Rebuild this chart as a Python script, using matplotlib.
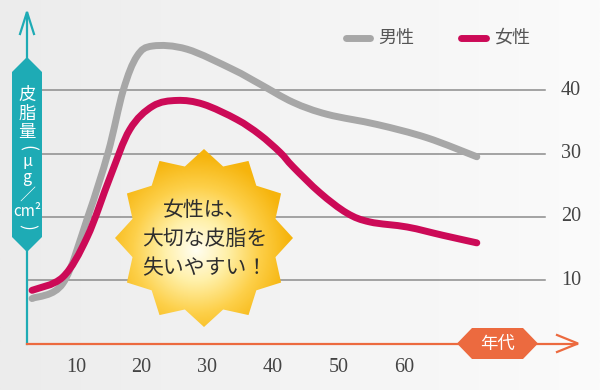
import numpy as np
import matplotlib
matplotlib.use("Agg")
import matplotlib.pyplot as plt
from matplotlib.patches import Polygon, PathPatch
from matplotlib.path import Path

plt.rcParams['font.family'] = ['Noto Sans CJK JP', 'DejaVu Sans']

# data (age in years, sebum amount)
male_age = [3.3, 8.0, 11.8, 14.9, 17.2, 19.3, 21.7, 26.9, 33.9, 38.0, 43.1, 48.3, 55.9, 63.5, 71.1]
male_val = [7.1, 9.5, 20.0, 30.2, 40.0, 45.4, 47.0, 46.5, 43.3, 41.0, 38.1, 36.2, 34.6, 32.5, 29.5]
female_age = [3.3, 8.0, 11.7, 15.2, 18.2, 21.7, 25.4, 29.4, 34.5, 38.0, 41.1, 43.1, 47.2, 51.3, 54.8, 60.5, 65.9, 71.1]
female_val = [8.4, 10.5, 16.8, 26.3, 33.8, 37.5, 38.4, 37.8, 35.4, 33.0, 30.2, 27.9, 23.8, 20.6, 19.2, 18.4, 17.1, 15.9]
x_ticks = [10, 20, 30, 40, 50, 60]
y_ticks = [10, 20, 30, 40]

GRAY = '#a7a7a7'
RED = '#cc0a57'
TEAL = '#1eabb5'
ORANGE = '#ec6a3f'


# pixel position (image coords, y down) -> data coords
def dx(px):
    return 10 + (px - 76) / 6.56


def dy(py):
    return (343.5 - py) / 6.33


def smooth_path(xs, ys):
    # catmull-rom through the read points, drawn as cubic beziers
    p = np.column_stack([xs, ys]).astype(float)
    p = np.vstack([p[0], p, p[-1]])
    verts = [tuple(p[1])]
    codes = [Path.MOVETO]
    for i in range(1, len(p) - 2):
        c1 = p[i] + (p[i + 1] - p[i - 1]) / 6
        c2 = p[i + 1] - (p[i + 2] - p[i]) / 6
        verts += [tuple(c1), tuple(c2), tuple(p[i + 1])]
        codes += [Path.CURVE4] * 3
    return Path(verts, codes)


fig = plt.figure(figsize=(6, 3.9), dpi=100)
ax = fig.add_axes([0, 0, 1, 1])
ax.set_xlim(dx(0), dx(600))
ax.set_ylim(dy(390), dy(0))
ax.axis('off')

# background gradient
grad = np.linspace(0, 1, 256).reshape(1, -1)
bg = matplotlib.colors.LinearSegmentedColormap.from_list('bg', ['#ececec', '#fbfbfb'])
ax.imshow(grad, cmap=bg, extent=[dx(0), dx(600), dy(390), dy(0)], aspect='auto', zorder=0)

# grid lines and right labels
for v in y_ticks:
    ax.plot([dx(27), dx(545)], [v, v], color='#8c8c8c', lw=1.1, zorder=1)
    ax.text(dx(571), v, str(v), ha='center', va='center', fontsize=14.5,
            family='Liberation Serif', color='#444444')
for t in x_ticks:
    ax.text(t, dy(368), str(t), ha='center', va='center', fontsize=14.5,
            family='Liberation Serif', color='#444444')

# curves
for xs, ys, col, z in [(male_age, male_val, GRAY, 3), (female_age, female_val, RED, 4)]:
    ax.add_patch(PathPatch(smooth_path(xs, ys), fc='none', ec=col, lw=5,
                           capstyle='round', joinstyle='round', zorder=z))

# legend
ax.plot([dx(346), dx(370)], [dy(38), dy(38)], color=GRAY, lw=5, solid_capstyle='round', zorder=5)
ax.text(dx(378), dy(38), '男性', ha='left', va='center', fontsize=13, color='#555555')
ax.plot([dx(461), dx(486)], [dy(38), dy(38)], color=RED, lw=5, solid_capstyle='round', zorder=5)
ax.text(dx(494), dy(38), '女性', ha='left', va='center', fontsize=13, color='#555555')

# y axis with arrow and label box
ax.plot([dx(27), dx(27)], [0, dy(13)], color=TEAL, lw=1.6, zorder=2)
ax.plot([dx(20), dx(27), dx(34)], [dy(34), dy(12), dy(34)], color=TEAL, lw=1.6,
        solid_joinstyle='miter', zorder=2)
ybox = [(27, 57), (42, 72), (42, 237), (27, 252), (12, 237), (12, 72)]
ax.add_patch(Polygon([(dx(a), dy(b)) for a, b in ybox], closed=True, fc=TEAL, ec='none', zorder=6))
ylab = [('皮', 95, 0, 12.5), ('脂', 114, 0, 12.5), ('量', 132, 0, 12.5), ('(', 148, -90, 12.5),
        ('μ', 161, 0, 11.5), ('g', 178, 0, 11.5), ('／', 195, 0, 11.5), ('cm²', 212, 0, 11),
        (')', 227, -90, 12.5)]
for ch, py, rot, fs in ylab:
    ax.text(dx(27), dy(py), ch, ha='center', va='center', fontsize=fs, color='white',
            rotation=rot, zorder=7)

# x axis with arrow and label box
ax.plot([dx(27), dx(577)], [0, 0], color=ORANGE, lw=1.6, zorder=2)
ax.plot([dx(557), dx(578), dx(557)], [dy(335), 0, dy(352)], color=ORANGE, lw=1.6,
        solid_joinstyle='miter', zorder=2)
xbox = [(457, 343.5), (472, 328), (523, 328), (538, 343.5), (523, 359), (472, 359)]
ax.add_patch(Polygon([(dx(a), dy(b)) for a, b in xbox], closed=True, fc=ORANGE, ec='none', zorder=6))
ax.text(dx(497.5), 0, '年代', ha='center', va='center', fontsize=12.5, color='white', zorder=7)

# starburst badge
cx, cy, r_out, r_in, n = 204, 238, 89, 74, 12
ang = np.arange(2 * n) * np.pi / n
rad = np.where(np.arange(2 * n) % 2 == 0, r_out, r_in)
star = [(dx(cx + r * np.sin(a)), dy(cy - r * np.cos(a))) for a, r in zip(ang, rad)]
patch = Polygon(star, closed=True, fc='none', ec='none', zorder=8)
ax.add_patch(patch)
gx, gy = np.meshgrid(np.linspace(cx - 92, cx + 92, 200), np.linspace(cy - 92, cy + 92, 200))
dist = np.hypot(gx - (cx - 8), gy - (cy + 12)) / 95
dist = np.clip(dist, 0, 1)
star_cmap = matplotlib.colors.LinearSegmentedColormap.from_list(
    'star', ['#fffef2', '#fff0a8', '#fdd04a', '#f6b40c'])
im = ax.imshow(dist, cmap=star_cmap, vmin=0, vmax=1,
               extent=[dx(cx - 92), dx(cx + 92), dy(cy + 92), dy(cy - 92)],
               aspect='auto', zorder=8)
im.set_clip_path(patch)
for txt, py in [('女性は、', 210), ('大切な皮脂を', 239), ('失いやすい！', 268)]:
    ax.text(dx(205), dy(py), txt, ha='center', va='center', fontsize=15,
            color='#2e2e2e', zorder=9)

fig.savefig('out.png', dpi=100)
